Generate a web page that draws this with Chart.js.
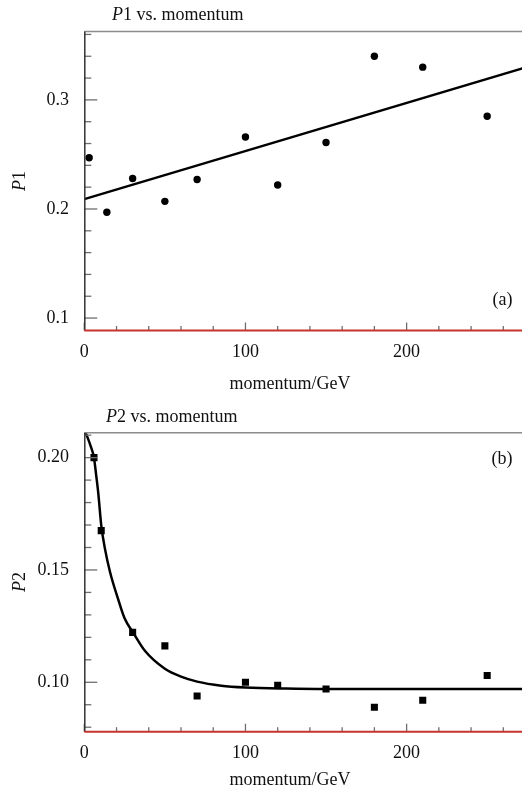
<!DOCTYPE html>
<html>
<head>
<meta charset="utf-8">
<script src="https://cdn.jsdelivr.net/npm/chart.js@4.4.0/dist/chart.umd.min.js"></script>
<style>
  body { margin: 0; background: #fff; }
  #wrap { position: relative; width: 522px; height: 792px; overflow: hidden; font-family: "Liberation Serif", "Times New Roman", serif; color: #111; }
  .panel { position: absolute; left: 0; width: 522px; }
  .panel canvas { display: block; }
  .txt { position: absolute; font-size: 18px; line-height: 18px; white-space: nowrap; }
  .ytitle { position: absolute; font-size: 18px; line-height: 18px; white-space: nowrap; transform: translate(-50%, -50%) rotate(-90deg); }
  .xtitle { transform: translateX(-50%); }
</style>
</head>
<body>
<div id="wrap">
  <div class="panel" style="top:0;height:400px"><canvas id="chartA" width="522" height="400"></canvas></div>
  <div class="panel" style="top:400px;height:392px"><canvas id="chartB" width="522" height="392"></canvas></div>

  <div class="txt" style="left:112px;top:5px"><i>P</i>1 vs. momentum</div>
  <div class="ytitle" style="left:18.5px;top:181px"><i>P</i>1</div>
  <div class="txt xtitle" style="left:290px;top:373.6px">momentum/GeV</div>
  <div class="txt" style="right:9.5px;top:289.5px">(a)</div>

  <div class="txt" style="left:106px;top:406.6px"><i>P</i>2 vs. momentum</div>
  <div class="ytitle" style="left:18.5px;top:582px"><i>P</i>2</div>
  <div class="txt xtitle" style="left:290px;top:769.6px">momentum/GeV</div>
  <div class="txt" style="right:9.5px;top:449px">(b)</div>
</div>
<script>
const FONT = '"Liberation Serif", "Times New Roman", serif';

// panel (a): P1 against momentum, with the straight fit
const momentumA = [3, 14, 30, 50, 70, 100, 120, 150, 180, 210, 250];
const p1Values = [0.247, 0.197, 0.228, 0.207, 0.227, 0.266, 0.222, 0.261, 0.340, 0.330, 0.285];
const p1FitMomentum = [0, 272];
const p1FitValues = [0.209, 0.329];

// panel (b): P2 against momentum, with the decaying fit curve
const momentumB = [6, 10.5, 30, 50, 70, 100, 120, 150, 180, 210, 250];
const p2Values = [0.200, 0.1675, 0.1222, 0.1162, 0.0939, 0.1000, 0.0987, 0.0970, 0.0889, 0.0920, 0.1030];
const p2FitMomentum = [0, 2, 4, 6, 7.4, 8.7, 10.5, 12.8, 16, 21, 25, 30.4, 37.6, 50, 60, 70, 85, 100, 125, 150, 200, 272];
const p2FitValues = [0.2125, 0.209, 0.205, 0.200, 0.192, 0.184, 0.170, 0.1595, 0.149, 0.137, 0.1285, 0.122, 0.114, 0.106, 0.1025, 0.1003, 0.0985, 0.0977, 0.0972, 0.0970, 0.0970, 0.0970];

// axis ticks (labelled ones; minor ticks fall in between)
const xTickValues = [0, 100, 200];
const xTickLabels = ['0', '100', '200'];
const p1TickValues = [0.1, 0.2, 0.3];
const p1TickLabels = ['0.1', '0.2', '0.3'];
const p2TickValues = [0.10, 0.15, 0.20];
const p2TickLabels = ['0.10', '0.15', '0.20'];

const near = (a, b) => Math.abs(a - b) < 1e-6;
const labelFor = (v, values, labels) => {
  const i = values.findIndex(m => near(m, v));
  return i < 0 ? '' : labels[i];
};
const stepTicks = (min, max, step) => {
  const out = [];
  const first = Math.ceil(min / step - 1e-9);
  for (let i = first; i * step <= max + 1e-9; i++) out.push({ value: +(i * step).toFixed(6) });
  return out;
};
const toPoints = (xs, ys) => xs.map((x, i) => ({ x, y: ys[i] }));

function line(ctx, x1, y1, x2, y2) {
  ctx.beginPath();
  ctx.moveTo(x1, y1);
  ctx.lineTo(x2, y2);
  ctx.stroke();
}

// inward ticks, grey top border, dark left axis, red bottom axis
const axesFrame = {
  id: 'axesFrame',
  afterDatasetsDraw(chart, args, opts) {
    const { ctx, chartArea: a, scales: { x, y } } = chart;
    ctx.save();
    ctx.strokeStyle = '#8c8c8c';
    ctx.lineWidth = 1.5;
    line(ctx, a.left, a.top, a.right, a.top);

    ctx.strokeStyle = '#6e6e6e';
    ctx.lineWidth = 1.3;
    y.ticks.forEach(t => {
      const py = y.getPixelForValue(t.value);
      const len = opts.yMajor.some(m => near(m, t.value)) ? 13 : 7;
      line(ctx, a.left, py, a.left + len, py);
    });
    x.ticks.forEach(t => {
      const px = x.getPixelForValue(t.value);
      const len = xTickValues.some(m => near(m, t.value)) ? 8 : 4.5;
      line(ctx, px, a.bottom, px, a.bottom - len);
    });

    ctx.strokeStyle = '#333';
    ctx.lineWidth = 1.5;
    line(ctx, a.left + 0.5, a.top, a.left + 0.5, a.bottom);

    ctx.strokeStyle = '#c8332e';
    ctx.lineWidth = 2;
    line(ctx, a.left, a.bottom, a.right, a.bottom);
    ctx.restore();
  }
};

function makePanel(id, cfg) {
  return new Chart(document.getElementById(id), {
    type: 'scatter',
    data: {
      datasets: [
        {
          data: toPoints(cfg.fitX, cfg.fitY),
          showLine: true,
          borderColor: '#000',
          borderWidth: 2.5,
          pointRadius: 0,
          cubicInterpolationMode: cfg.smooth ? 'monotone' : 'default',
          order: 2
        },
        {
          data: toPoints(cfg.xs, cfg.ys),
          showLine: false,
          pointStyle: cfg.marker,
          pointRadius: cfg.markerSize,
          backgroundColor: '#000',
          borderColor: '#000',
          borderWidth: 0,
          order: 1
        }
      ]
    },
    options: {
      responsive: false,
      animation: false,
      layout: { autoPadding: false, padding: { top: cfg.top, left: 0, right: 0, bottom: 0 } },
      plugins: {
        legend: { display: false },
        tooltip: { enabled: false },
        axesFrame: { yMajor: cfg.yTickValues }
      },
      scales: {
        x: {
          type: 'linear',
          min: 0,
          max: 271.6,
          afterBuildTicks: s => { s.ticks = stepTicks(0, 271.6, 20); },
          afterFit: s => { s.height = cfg.xAxisHeight; },
          grid: { display: false, drawTicks: false },
          border: { display: false },
          ticks: {
            autoSkip: false,
            maxRotation: 0,
            padding: 11,
            color: '#111',
            font: { family: FONT, size: 18 },
            callback: v => labelFor(v, xTickValues, xTickLabels)
          }
        },
        y: {
          type: 'linear',
          min: cfg.yMin,
          max: cfg.yMax,
          afterBuildTicks: s => { s.ticks = stepTicks(cfg.yMin, cfg.yMax, cfg.yStep); },
          afterFit: s => { s.width = 84.3; },
          grid: { display: false, drawTicks: false },
          border: { display: false },
          ticks: {
            autoSkip: false,
            padding: 15.3,
            color: '#111',
            font: { family: FONT, size: 18 },
            callback: v => labelFor(v, cfg.yTickValues, cfg.yTickLabels)
          }
        }
      }
    },
    plugins: [axesFrame]
  });
}

makePanel('chartA', {
  xs: momentumA, ys: p1Values,
  fitX: p1FitMomentum, fitY: p1FitValues, smooth: false,
  marker: 'circle', markerSize: 3.7,
  yMin: 0.0886, yMax: 0.3627, yStep: 0.02,
  yTickValues: p1TickValues, yTickLabels: p1TickLabels,
  top: 31.5, xAxisHeight: 69.5
});

makePanel('chartB', {
  xs: momentumB, ys: p2Values,
  fitX: p2FitMomentum, fitY: p2FitValues, smooth: true,
  marker: 'rect', markerSize: 5,
  yMin: 0.078, yMax: 0.2111, yStep: 0.01,
  yTickValues: p2TickValues, yTickLabels: p2TickLabels,
  top: 32.7, xAxisHeight: 60.3
});
</script>
</body>
</html>
